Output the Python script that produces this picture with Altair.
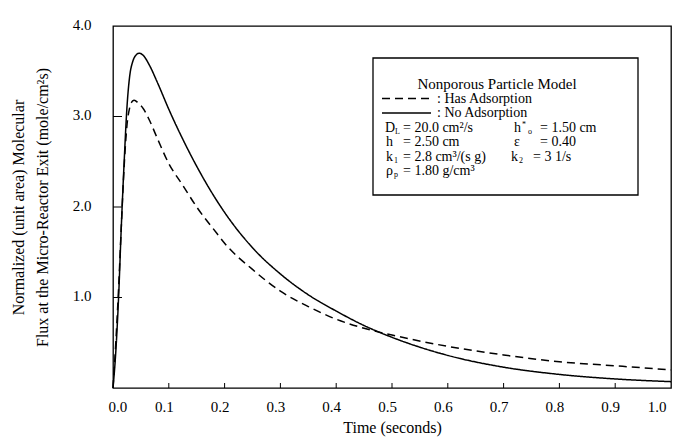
import altair as alt
import pandas as pd

# ---- data ----
t_no = [0.0, 0.005, 0.01, 0.015, 0.02, 0.025, 0.03, 0.035, 0.04, 0.047, 0.055, 0.065,
        0.08, 0.1, 0.125, 0.15, 0.185, 0.2, 0.25, 0.3, 0.35, 0.4, 0.45, 0.5, 0.6,
        0.7, 0.8, 0.9, 1.0]
f_no = [0.0, 0.4, 1.0, 1.8, 2.5, 3.1, 3.45, 3.6, 3.67, 3.70, 3.67, 3.57,
        3.37, 3.08, 2.75, 2.45, 2.08, 1.94, 1.55, 1.26, 1.03, 0.85, 0.69, 0.56, 0.36,
        0.23, 0.15, 0.10, 0.07]
t_ads = [0.0, 0.005, 0.01, 0.015, 0.02, 0.025, 0.03, 0.035, 0.038, 0.045, 0.055, 0.066,
         0.08, 0.1, 0.125, 0.15, 0.186, 0.2, 0.25, 0.3, 0.35, 0.4, 0.45, 0.5, 0.6,
         0.7, 0.8, 0.9, 1.0]
f_ads = [0.0, 0.5, 1.1, 1.8, 2.45, 2.9, 3.1, 3.17, 3.18, 3.15, 3.08, 2.95,
         2.75, 2.48, 2.24, 2.0, 1.71, 1.6, 1.31, 1.07, 0.90, 0.76, 0.66, 0.585, 0.46,
         0.365, 0.29, 0.245, 0.20]
x_ticks = [0.1, 0.2, 0.3, 0.4, 0.5, 0.6, 0.7, 0.8, 0.9]
y_ticks = [1.0, 2.0, 3.0]

FONT = "Liberation Serif"
W, H = 558, 362

df = pd.concat([
    pd.DataFrame({"t": t_ads, "f": f_ads, "s": "Has Adsorption"}),
    pd.DataFrame({"t": t_no, "f": f_no, "s": "No Adsorption"}),
])

xs = alt.Scale(domain=[0, 1], nice=False)
ys = alt.Scale(domain=[0, 4], nice=False)

lines = alt.Chart(df).mark_line(color="black", strokeWidth=1.5, interpolate="monotone").encode(
    x=alt.X("t:Q", scale=xs,
            axis=alt.Axis(values=[round(i * 0.1, 1) for i in range(11)], format=".1f",
                          ticks=False, domain=False, grid=False, labelPadding=11,
                          labelOffset=-5, title="Time (seconds)", titlePadding=5)),
    y=alt.Y("f:Q", scale=ys,
            axis=alt.Axis(values=[1.0, 2.0, 3.0, 4.0], format=".1f", ticks=False,
                          domain=False, grid=False, labelPadding=22, labelOffset=-2,
                          title=["Normalized (unit area) Molecular",
                                 "Flux at the Micro-Reactor Exit (mole/cm\u00b2s)"],
                          titleLineHeight=24, titleX=-87, titleY=181,
                          titleBaseline="bottom", titleAngle=-90)),
    strokeDash=alt.StrokeDash("s:N", scale=alt.Scale(domain=["Has Adsorption", "No Adsorption"],
                                                     range=[[8, 5], [1, 0]]), legend=None),
    order="t:Q",
)

xt = alt.Chart(pd.DataFrame({"v": x_ticks})).mark_rule(color="black", strokeWidth=1).encode(
    x=alt.X("v:Q", scale=xs), y=alt.value(H), y2=alt.value(H - 5))
yt = alt.Chart(pd.DataFrame({"v": y_ticks})).mark_rule(color="black", strokeWidth=1).encode(
    y=alt.Y("v:Q", scale=ys), x=alt.value(0), x2=alt.value(9))

# legend box (pixel layout)
ox, oy = 113, 26
box = alt.Chart(pd.DataFrame({"a": [0]})).mark_rect(fill="white", stroke="black", strokeWidth=1.3).encode(
    x=alt.value(373 - ox), x2=alt.value(638 - ox), y=alt.value(58 - oy), y2=alt.value(195 - oy))

dash_sample = alt.Chart(pd.DataFrame({"a": [0]})).mark_rule(color="black", strokeWidth=1.3, strokeDash=[8, 5]).encode(
    x=alt.value(382 - ox), x2=alt.value(431 - ox), y=alt.value(98.5 - oy))
solid_sample = alt.Chart(pd.DataFrame({"a": [0]})).mark_rule(color="black", strokeWidth=1.3).encode(
    x=alt.value(382 - ox), x2=alt.value(431 - ox), y=alt.value(113 - oy))

FS = 14
texts = [
    ("Nonporous Particle Model", 497, 84, 15, "center"),
    (": Has Adsorption", 437, 98.5, FS, "left"),
    (": No Adsorption", 437, 113, FS, "left"),
    ("D", 385, 127.5, FS, "left"), ("= 20.0 cm\u00b2/s", 403, 127.5, FS, "left"),
    ("h", 514, 127.5, FS, "left"), ("= 1.50 cm", 540, 127.5, FS, "left"),
    ("h", 386, 142, FS, "left"), ("= 2.50 cm", 403, 142, FS, "left"),
    ("\u03b5", 514, 142, FS, "left"), ("= 0.40", 540, 142, FS, "left"),
    ("k", 386, 156.5, FS, "left"), ("= 2.8 cm\u00b3/(s g)", 403, 156.5, FS, "left"),
    ("k", 511, 156.5, FS, "left"), ("= 3 1/s", 533, 156.5, FS, "left"),
    ("\u03c1", 386, 171, FS, "left"), ("= 1.80 g/cm\u00b3", 403, 171, FS, "left"),
    # subscripts / superscripts
    ("L", 395, 131.5, 8, "left"),
    ("*", 522, 124.5, 8, "left"), ("o", 528, 131.5, 8, "left"),
    ("1", 394, 160.5, 8, "left"),
    ("2", 519, 160.5, 8, "left"),
    ("p", 394, 175, 8, "left"),
]
tlayers = []
for txt, px, py, fs, al in texts:
    tlayers.append(
        alt.Chart(pd.DataFrame({"a": [0]})).mark_text(
            text=txt, font=FONT, fontSize=fs, align=al, baseline="middle", color="black"
        ).encode(x=alt.value(px - ox), y=alt.value(py - oy))
    )

chart = alt.layer(lines, xt, yt, box, dash_sample, solid_sample, *tlayers).properties(
    width=W, height=H,
    autosize=alt.AutoSizeParams(type="none"),
    padding={"left": 105, "top": 18, "right": 2, "bottom": 50},
).configure(background="white").configure_view(stroke="black", strokeWidth=1.3).configure_axis(
    labelFont=FONT, titleFont=FONT, labelFontSize=15, titleFontSize=16,
    labelColor="black", titleColor="black", titleFontWeight="normal",
)

chart.save("out.html", embed_options={"renderer": "svg", "actions": False})
